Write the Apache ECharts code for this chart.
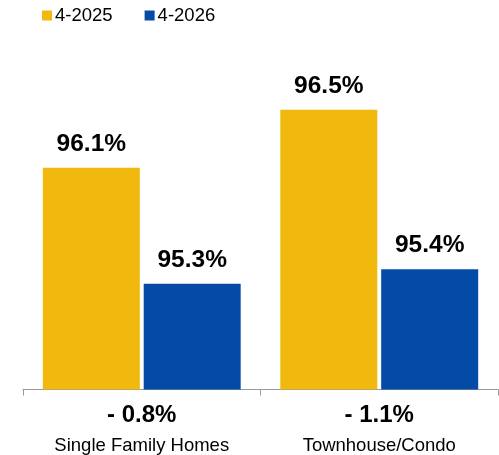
<!DOCTYPE html>
<html>
<head>
<meta charset="utf-8">
<style>
  html, body { margin: 0; padding: 0; background: #fff; }
  #chart { width: 499px; height: 455px; }
</style>
<script src="https://cdn.jsdelivr.net/npm/echarts@6/dist/echarts.min.js"></script>
</head>
<body>
<div id="chart"></div>
<script>
// Sale-to-list price ratio by property type, April 2025 vs April 2026
const categories = ['Single Family Homes', 'Townhouse/Condo'];
const seriesNames = ['4-2025', '4-2026'];
const values2025 = [96.1, 96.5];
const values2026 = [95.3, 95.4];

const colors = ['#F1B80E', '#044BA7'];
const FONT = '"Liberation Sans", Arial, Helvetica, sans-serif';

// change between the two years, shown under each group
function changeText(i) {
  const d = values2026[i] - values2025[i];
  const sign = d < 0 ? '- ' : '+ ';
  return sign + Math.abs(d).toFixed(1) + '%';
}

const chart = echarts.init(document.getElementById('chart'), null, { renderer: 'canvas' });

const valueLabel = {
  show: true,
  position: 'top',
  distance: 11,
  formatter: p => p.value.toFixed(1) + '%',
  color: '#000',
  fontFamily: FONT,
  fontWeight: 'bold',
  fontSize: 24.5
};

chart.setOption({
  animation: false,
  textStyle: { fontFamily: FONT },
  legend: {
    data: seriesNames,
    left: 37,
    top: 1,
    itemWidth: 10,
    itemHeight: 10,
    itemGap: 32,
    icon: 'rect',
    textStyle: { fontSize: 18.5, color: '#000', fontFamily: FONT, padding: [0, 0, 0, -2] }
  },
  grid: { left: 23, right: 1, top: 37.4, bottom: 455 - 389.5 },
  xAxis: {
    type: 'category',
    data: categories,
    axisLine: { lineStyle: { color: '#999', width: 1 } },
    axisTick: { show: true, length: 6, lineStyle: { color: '#999' } },
    axisLabel: {
      margin: 10,
      formatter: (v, i) => '{c|' + changeText(i) + '}\n{n|' + v + '}',
      rich: {
        c: { fontSize: 24, fontWeight: 'bold', color: '#000', fontFamily: FONT, lineHeight: 31 },
        n: { fontSize: 18.5, color: '#000', fontFamily: FONT, lineHeight: 30 }
      }
    }
  },
  yAxis: {
    type: 'value',
    min: 94.57,
    max: 97,
    show: false,
    splitLine: { show: false }
  },
  series: [
    {
      name: seriesNames[0],
      type: 'bar',
      data: values2025,
      barWidth: 97,
      barGap: '4%',
      itemStyle: { color: colors[0] },
      label: valueLabel
    },
    {
      name: seriesNames[1],
      type: 'bar',
      data: values2026,
      barWidth: 97,
      itemStyle: { color: colors[1] },
      label: valueLabel
    }
  ]
});
</script>
</body>
</html>
